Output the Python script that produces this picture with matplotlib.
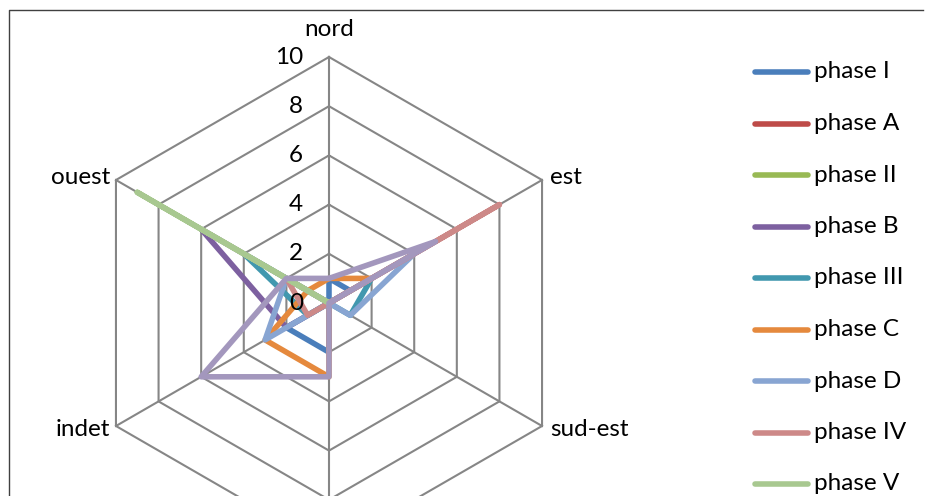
import numpy as np
import matplotlib.pyplot as plt

# ── DATA ──────────────────────────────────────────────────────────────────
axes_labels = ["nord", "est", "sud-est", "sud", "indet", "ouest"]
ticks = [0, 2, 4, 6, 8, 10]

phase_names = ["phase I", "phase A", "phase II", "phase B", "phase III",
               "phase C", "phase D", "phase IV", "phase V", "phase E"]

phase_I   = [1, 1, 0, 2, 2, 0]
phase_A   = [0, 0, 0, 0, 0, 0]
phase_II  = [0, 0, 0, 0, 0, 0]
phase_B   = [0, 0, 0, 0, 2, 6]
phase_III = [0, 2, 1, 0, 1, 4]
phase_C   = [1, 2, 0, 3, 3, 1]
phase_D   = [0, 4, 1, 0, 3, 2]
phase_IV  = [0, 8, 0, 0, 1, 2]
phase_V   = [0, 0, 0, 0, 0, 9]
phase_E   = [1, 5, 0, 3, 6, 2]

series = [phase_I, phase_A, phase_II, phase_B, phase_III,
          phase_C, phase_D, phase_IV, phase_V, phase_E]

colors = ["#4a7ebb", "#be4b48", "#98b954", "#7d60a0", "#4198af",
          "#e5893d", "#88a5d2", "#cd8988", "#a8c890", "#a397bd"]

# ── LAYOUT (pixel space) ──────────────────────────────────────────────────
CX, CY = 329, 303       # centre of the radar
R = 246                 # radius for value 10
VMAX = 10
FONT = "Lato"
FS = 17.5
H = 496                 # visible height, anything below is cropped

n = len(axes_labels)
theta = np.arange(n) * 2 * np.pi / n   # clockwise from north


def to_xy(values):
    v = np.asarray(values, dtype=float) * R / VMAX
    x = CX + v * np.sin(theta)
    y = CY - v * np.cos(theta)
    return np.append(x, x[0]), np.append(y, y[0])


fig = plt.figure(figsize=(9.28, 4.96), dpi=100)
ax = fig.add_axes([0, 0, 1, 1])
ax.set_xlim(0, 928)
ax.set_ylim(H, 0)
ax.axis("off")

# frame
ax.plot([9, 9, 923], [H, 10, 10], color="#404040", lw=1.0, zorder=1)

# hexagonal grid
grid_c = "#868686"
for t in ticks[1:]:
    gx, gy = to_xy([t] * n)
    ax.plot(gx, gy, color=grid_c, lw=1.5, zorder=2)
for k in range(n):
    ax.plot([CX, CX + R * np.sin(theta[k])], [CY, CY - R * np.cos(theta[k])],
            color=grid_c, lw=1.5, zorder=2)

# tick labels
for t in ticks:
    ax.text(CX - 26, CY - t * R / VMAX, str(t), ha="right", va="center",
            fontsize=FS, family=FONT, color="black", zorder=5)

# category labels (the bottom one falls outside the cropped picture)
lab_pos = {
    "nord": (CX, CY - R - 28, "center"),
    "est": (CX + R * 0.866 + 8, CY - R * 0.5 - 3, "left"),
    "sud-est": (CX + R * 0.866 + 8, CY + R * 0.5 + 3, "left"),
    "sud": (CX, CY + R + 30, "center"),
    "indet": (CX - R * 0.866 - 6, CY + R * 0.5 + 3, "right"),
    "ouest": (CX - R * 0.866 - 6, CY - R * 0.5 - 3, "right"),
}
for name in axes_labels:
    x, y, ha = lab_pos[name]
    if y > H:
        continue
    ax.text(x, y, name, ha=ha, va="center", fontsize=FS, family=FONT,
            color="black", zorder=5)

# series
for vals, c in zip(series, colors):
    sx, sy = to_xy(vals)
    ax.plot(sx, sy, color=c, lw=4.0, solid_joinstyle="round",
            solid_capstyle="round", zorder=3)

# legend (manual, Excel style); entries below the crop are not drawn
for i, (name, c) in enumerate(zip(phase_names, colors)):
    ly = 72 + i * 51.5
    if ly > H - 5:
        continue
    ax.plot([755, 808], [ly, ly], color=c, lw=4.0, solid_capstyle="round", zorder=3)
    ax.text(814, ly, name, ha="left", va="center", fontsize=FS, family=FONT,
            color="black", zorder=5)

plt.savefig("out.png", dpi=100)
